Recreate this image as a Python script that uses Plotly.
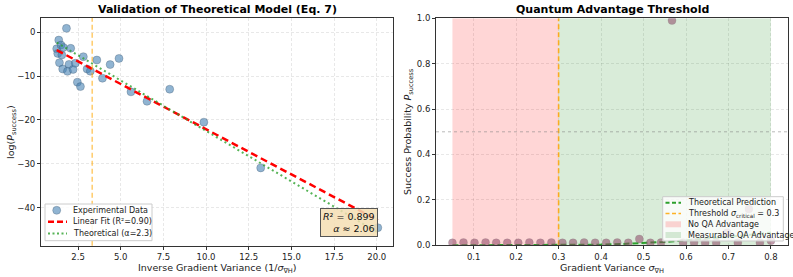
import plotly.graph_objects as go

# ---------------- data: left panel ----------------
exp_x = [1.82, 1.37, 1.25, 1.50, 1.64, 2.07, 1.31, 1.55, 1.41, 1.97, 1.60, 1.88, 2.21, 2.34,
         2.81, 3.03, 3.22, 3.60, 3.93, 2.46, 2.64, 4.38, 4.90, 5.60, 6.54, 7.87, 9.87, 13.2, 20.06]
exp_y = [0.84, -1.82, -3.8, -2.95, -3.5, -3.7, -4.85, -5.2, -6.97, -7.35, -8.4, -8.93, -8.5, -7.1,
         -5.6, -8.4, -8.9, -6.36, -10.5, -11.4, -12.4, -7.4, -6.0, -13.6, -15.75, -13.0, -20.5, -30.9, -44.5]
fit_x = [1.25, 20.06]
fit_y = [-4.1, -42.8]
theo_x = [1.25, 20.06]
theo_y = [-2.4, -45.6]
threshold_inv = 3.33
left_xticks = [2.5, 5.0, 7.5, 10.0, 12.5, 15.0, 17.5, 20.0]
left_yticks = [0, -10, -20, -30, -40]
left_legend_labels = ["Experimental Data", "Linear Fit (R²=0.90)", "Theoretical (α=2.3)"]

# ---------------- data: right panel ----------------
sig_x = [0.050, 0.076, 0.102, 0.128, 0.153, 0.179, 0.205, 0.231, 0.257, 0.283,
         0.309, 0.334, 0.360, 0.386, 0.412, 0.438, 0.464, 0.490, 0.516, 0.541,
         0.567, 0.593, 0.619, 0.645, 0.671, 0.697, 0.722, 0.748, 0.774, 0.800]
sig_y = [0.011, 0.012, 0.011, 0.012, 0.011, 0.011, 0.011, 0.012, 0.011, 0.012,
         0.011, 0.011, 0.012, 0.011, 0.011, 0.012, 0.011, 0.028, 0.011, 0.012,
         0.990, 0.011, 0.012, 0.011, 0.011, 0.055, 0.011, 0.160, 0.011, 0.020]
pred_x = [0.05, 0.10, 0.15, 0.20, 0.25, 0.30, 0.35, 0.40, 0.45, 0.50, 0.55, 0.60, 0.65, 0.70, 0.75, 0.80]
pred_y = [0.0, 0.0, 0.0, 0.0, 0.0001, 0.0005, 0.0014, 0.003, 0.006, 0.010, 0.015, 0.022, 0.029, 0.037, 0.046, 0.056]
sigma_crit = 0.3
no_adv = [0.05, 0.3]
adv = [0.3, 0.8]
right_xticks = [0.1, 0.2, 0.3, 0.4, 0.5, 0.6, 0.7, 0.8]
right_yticks = [0.0, 0.2, 0.4, 0.6, 0.8, 1.0]
right_legend_labels = ["Theoretical Prediction", "Threshold <i>σ</i><sub>critical</sub> = 0.3",
                       "No QA Advantage", "Measurable QA Advantage"]

W, H = 793, 277
FONT = "DejaVu Sans"


def px(x):
    return x / W


def py(y):
    return 1 - y / H


C_EXP = "rgba(70,130,180,0.6)"
C_FIT = "#ff0000"
C_THEO = "rgba(44,160,44,0.8)"
C_ORANGE_L = "rgba(255,165,0,0.55)"
C_ORANGE_R = "rgba(255,165,0,0.85)"
C_RED_FILL = "rgba(255,0,0,0.16)"
C_GREEN_FILL = "rgba(0,128,0,0.15)"
C_PRED = "#2ca02c"

fig = go.Figure()

# left panel traces
fig.add_trace(go.Scatter(x=exp_x, y=exp_y, mode="markers", showlegend=False,
                         marker=dict(size=8, color=C_EXP,
                                     line=dict(color="rgba(60,80,100,0.5)", width=0.6)),
                         xaxis="x", yaxis="y"))
fig.add_trace(go.Scatter(x=fit_x, y=fit_y, mode="lines", showlegend=False,
                         line=dict(color=C_FIT, width=2.5, dash="7px,4px"),
                         xaxis="x", yaxis="y"))
fig.add_trace(go.Scatter(x=theo_x, y=theo_y, mode="lines", showlegend=False,
                         line=dict(color=C_THEO, width=2, dash="2px,3px"),
                         xaxis="x", yaxis="y"))

# right panel traces
fig.add_trace(go.Scatter(x=[no_adv[0], no_adv[1], no_adv[1], no_adv[0], no_adv[0]], y=[0, 0, 1, 1, 0],
                         mode="lines", fill="toself", fillcolor=C_RED_FILL,
                         line=dict(width=0, color="rgba(0,0,0,0)"), showlegend=False,
                         hoverinfo="skip", xaxis="x2", yaxis="y2"))
fig.add_trace(go.Scatter(x=[adv[0], adv[1], adv[1], adv[0], adv[0]], y=[0, 0, 1, 1, 0],
                         mode="lines", fill="toself", fillcolor=C_GREEN_FILL,
                         line=dict(width=0, color="rgba(0,0,0,0)"), showlegend=False,
                         hoverinfo="skip", xaxis="x2", yaxis="y2"))
fig.add_trace(go.Scatter(x=[sigma_crit, sigma_crit], y=[0, 1], mode="lines", showlegend=False,
                         line=dict(color=C_ORANGE_R, width=1.6, dash="5px,3px"),
                         xaxis="x2", yaxis="y2"))
fig.add_trace(go.Scatter(x=pred_x, y=pred_y, mode="lines", showlegend=False,
                         line=dict(color=C_PRED, width=2, dash="6px,3px"),
                         xaxis="x2", yaxis="y2"))
fig.add_trace(go.Scatter(x=sig_x, y=sig_y, mode="markers", showlegend=False,
                         marker=dict(size=8, color="rgba(140,70,100,0.55)",
                                     line=dict(color="rgba(120,120,120,0.4)", width=0.5)),
                         xaxis="x2", yaxis="y2"))

shapes = [
    dict(type="line", xref="x", yref="y domain", x0=threshold_inv, x1=threshold_inv, y0=0, y1=1,
         line=dict(color=C_ORANGE_L, width=1.6, dash="5px,3px"), layer="above"),
    dict(type="line", xref="x2 domain", yref="y2", x0=0, x1=1, y0=0.5, y1=0.5,
         line=dict(color="rgba(128,128,128,0.55)", width=1, dash="dot"), layer="above"),
]
annotations = []


def leg_text(x, y, t):
    annotations.append(dict(text=t, xref="paper", yref="paper", x=px(x), y=py(y),
                            xanchor="left", yanchor="middle", showarrow=False,
                            font=dict(family=FONT, size=8, color="#222")))


# ---- left legend (manual) ----
shapes.append(dict(type="rect", xref="paper", yref="paper", x0=px(45), x1=px(152), y0=py(240.7), y1=py(204),
                   fillcolor="rgba(255,255,255,0.85)", line=dict(color="#cccccc", width=1), layer="above"))
ly = [210.3, 221.8, 233.5]
shapes.append(dict(type="circle", xref="paper", yref="paper", x0=px(56.7 - 4), x1=px(56.7 + 4),
                   y0=py(ly[0] + 4), y1=py(ly[0] - 4), fillcolor=C_EXP,
                   line=dict(color="rgba(60,80,100,0.5)", width=0.6), layer="above"))
shapes.append(dict(type="line", xref="paper", yref="paper", x0=px(48), x1=px(67), y0=py(ly[1]), y1=py(ly[1]),
                   line=dict(color=C_FIT, width=2.5, dash="6px,3px"), layer="above"))
shapes.append(dict(type="line", xref="paper", yref="paper", x0=px(48), x1=px(67), y0=py(ly[2]), y1=py(ly[2]),
                   line=dict(color=C_THEO, width=2, dash="2px,2.5px"), layer="above"))
for yy, t in zip(ly, left_legend_labels):
    leg_text(71, yy, t)

# ---- right legend (manual) ----
shapes.append(dict(type="rect", xref="paper", yref="paper", x0=px(662.7), x1=px(783.3), y0=py(241), y1=py(196.7),
                   fillcolor="rgba(255,255,255,0.8)", line=dict(color="#cccccc", width=1), layer="above"))
ry = [202.7, 213.5, 224.3, 235.0]
shapes.append(dict(type="line", xref="paper", yref="paper", x0=px(665.5), x1=px(681), y0=py(ry[0]), y1=py(ry[0]),
                   line=dict(color=C_PRED, width=2, dash="4px,2.5px"), layer="above"))
shapes.append(dict(type="line", xref="paper", yref="paper", x0=px(665.5), x1=px(681), y0=py(ry[1]), y1=py(ry[1]),
                   line=dict(color=C_ORANGE_R, width=1.6, dash="4px,2.5px"), layer="above"))
shapes.append(dict(type="rect", xref="paper", yref="paper", x0=px(665.5), x1=px(681), y0=py(ry[2] + 3), y1=py(ry[2] - 3),
                   fillcolor=C_RED_FILL, line=dict(width=0), layer="above"))
shapes.append(dict(type="rect", xref="paper", yref="paper", x0=px(665.5), x1=px(681), y0=py(ry[3] + 3), y1=py(ry[3] - 3),
                   fillcolor=C_GREEN_FILL, line=dict(width=0), layer="above"))
for yy, t in zip(ry, right_legend_labels):
    leg_text(686, yy, t)

# ---- titles, axis titles, text box ----
annotations += [
    dict(text="<b>Validation of Theoretical Model (Eq. 7)</b>", xref="paper", yref="paper",
         x=px(217), y=py(9.5), xanchor="center", yanchor="middle", showarrow=False,
         font=dict(family=FONT, size=11, color="black")),
    dict(text="<b>Quantum Advantage Threshold</b>", xref="paper", yref="paper",
         x=px(612), y=py(9.5), xanchor="center", yanchor="middle", showarrow=False,
         font=dict(family=FONT, size=11, color="black")),
    dict(text="Inverse Gradient Variance (1/<i>σ</i><sub>∇H</sub>)", xref="paper", yref="paper",
         x=px(217), y=py(268), xanchor="center", yanchor="middle", showarrow=False,
         font=dict(family=FONT, size=9.5, color="#222")),
    dict(text="Gradient Variance <i>σ</i><sub>∇H</sub>", xref="paper", yref="paper",
         x=px(612), y=py(268), xanchor="center", yanchor="middle", showarrow=False,
         font=dict(family=FONT, size=9.5, color="#222")),
    dict(text="log(<i>P</i><sub>success</sub>)", xref="paper", yref="paper", textangle=-90,
         x=px(11), y=py(132), xanchor="center", yanchor="middle", showarrow=False,
         font=dict(family=FONT, size=9.5, color="#222")),
    dict(text="Success Probability <i>P</i><sub>success</sub>", xref="paper", yref="paper", textangle=-90,
         x=px(408), y=py(132), xanchor="center", yanchor="middle", showarrow=False,
         font=dict(family=FONT, size=9.5, color="#222")),
    dict(text="<i>R</i>² = 0.899<br><i>α</i> ≈ 2.06", xref="paper", yref="paper",
         x=px(378), y=py(236.7), xanchor="right", yanchor="bottom", align="right",
         showarrow=False, bgcolor="rgba(245,222,179,0.85)", bordercolor="#555555",
         borderwidth=1, borderpad=2, font=dict(family=FONT, size=9.5, color="#111")),
]

axis_common = dict(showline=True, linecolor="#333333", linewidth=1, mirror=True,
                   ticks="outside", ticklen=3, tickcolor="#333333", tickwidth=1,
                   showgrid=True, gridcolor="rgba(0,0,0,0.09)", griddash="3px,2px", gridwidth=0.6,
                   zeroline=False, tickfont=dict(family=FONT, size=8.5, color="#222"),
                   automargin=False)

fig.update_layout(
    width=W, height=H, margin=dict(l=0, r=0, t=0, b=0),
    paper_bgcolor="white", plot_bgcolor="white",
    font=dict(family=FONT, color="#222"),
    showlegend=False,
    shapes=shapes,
    annotations=annotations,
    xaxis=dict(domain=[px(41), px(393)], range=[0.33, 20.95], tickvals=left_xticks,
               tickformat=".1f", anchor="y", **axis_common),
    yaxis=dict(domain=[py(245.7), py(18)], range=[-48.6, 3.2], tickvals=left_yticks,
               anchor="x", **axis_common),
    xaxis2=dict(domain=[px(436), px(787.7)], range=[0.0113, 0.8394], tickvals=right_xticks,
                tickformat=".1f", anchor="y2", **axis_common),
    yaxis2=dict(domain=[py(245.3), py(18.3)], range=[0, 1], tickvals=right_yticks,
                tickformat=".1f", anchor="x2", **axis_common),
)

fig.write_html("out.html", config={"displayModeBar": False},
               post_script="document.body.style.margin='0';document.body.style.overflow='hidden';")
